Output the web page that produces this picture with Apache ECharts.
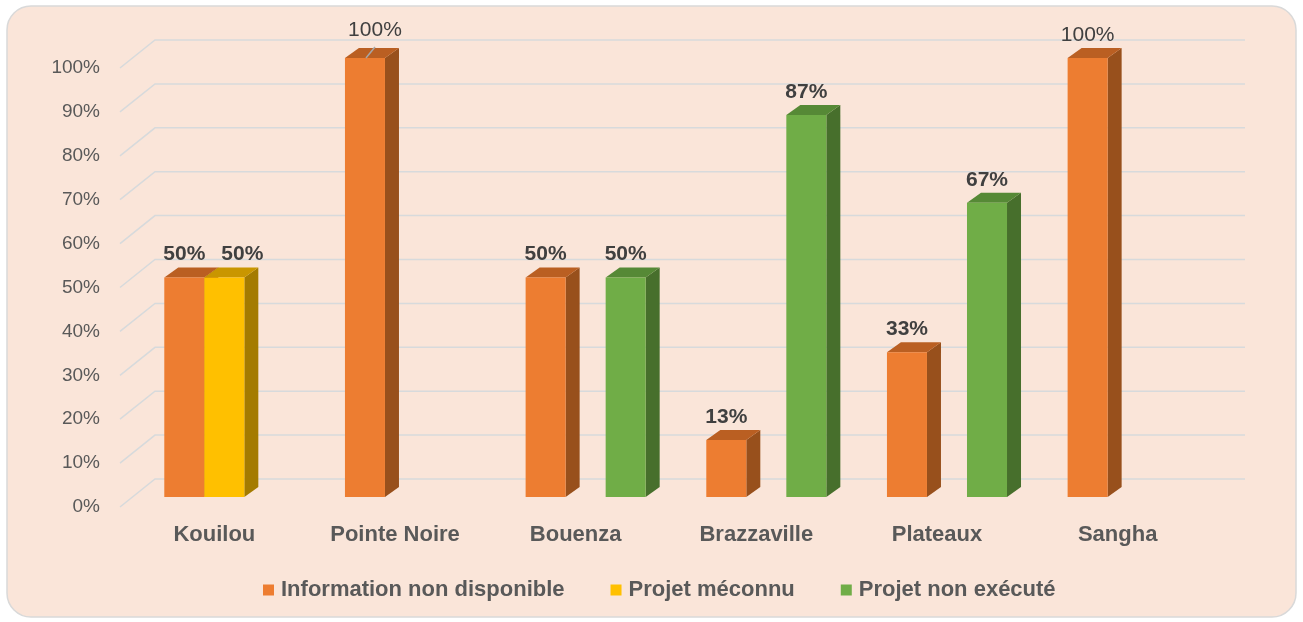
<!DOCTYPE html>
<html>
<head>
<meta charset="utf-8">
<script src="https://cdn.jsdelivr.net/npm/echarts@6/dist/echarts.min.js"></script>
<style>
  html, body { margin: 0; padding: 0; background: #ffffff; }
  #chart { width: 1303px; height: 622px; }
</style>
</head>
<body>
<div id="chart"></div>
<script>
// Départements and share of each status (%)
const categories = ['Kouilou', 'Pointe Noire', 'Bouenza', 'Brazzaville', 'Plateaux', 'Sangha'];
const seriesNames = ['Information non disponible', 'Projet méconnu', 'Projet non exécuté'];
const infoNonDisponible = [50, 100, 50, 13, 33, 100];
const projetMeconnu = [50, null, null, null, null, null];
const projetNonExecute = [null, null, 50, 87, 67, null];
const yTicks = [0, 10, 20, 30, 40, 50, 60, 70, 80, 90, 100];

const FONT = 'Liberation Sans';
const DEPTH_X = 14;   // 3D bar depth, horizontal
const DEPTH_Y = 10;   // 3D bar depth, vertical

const palette = [
  { front: '#ED7D31', top: '#BA5F22', side: '#98501C' },
  { front: '#FFC000', top: '#C99600', side: '#A47B00' },
  { front: '#70AD47', top: '#568936', side: '#476F2C' }
];

// small label shifts where labels would collide or need a leader line
const labelNudge = {
  '0:1': { dx: 18, dy: 0 },
  '1:0': { dx: 10, dy: -5, leader: true }
};

function toPoints(values) {
  return values.map((v, i) => (v == null ? null : [i, v])).filter(Boolean);
}

function barRenderer(slot) {
  return function (params, api) {
    const cat = api.value(0);
    const val = api.value(1);
    const base = api.coord([cat, 0]);
    const top = api.coord([cat, val]);
    const band = api.size([1, 0])[0];
    const w = band * 0.2215;
    const x0 = base[0] - band * 0.277 + slot * w;
    const x1 = x0 + w;
    const yb = base[1];
    const yt = top[1];
    const c = palette[slot];
    const nudge = labelNudge[cat + ':' + slot] || { dx: 0, dy: 0 };
    const lx = x0 + w / 2 + nudge.dx;
    const ly = yt - 23 + nudge.dy;
    const children = [
      { type: 'polygon', shape: { points: [[x1, yt], [x1 + DEPTH_X, yt - DEPTH_Y], [x1 + DEPTH_X, yb - DEPTH_Y], [x1, yb]] }, style: { fill: c.side } },
      { type: 'polygon', shape: { points: [[x0, yt], [x0 + DEPTH_X, yt - DEPTH_Y], [x1 + DEPTH_X, yt - DEPTH_Y], [x1, yt]] }, style: { fill: c.top } },
      { type: 'rect', shape: { x: x0, y: yt, width: w, height: yb - yt }, style: { fill: c.front } },
      {
        type: 'text',
        style: {
          text: val + '%', x: lx, y: ly, align: 'center', verticalAlign: 'middle',
          fontFamily: FONT, fontSize: 21, fontWeight: val === 100 ? 'normal' : 'bold',
          fill: '#404040'
        },
        z2: 10
      }
    ];
    if (nudge.leader) {
      children.push({
        type: 'line',
        shape: { x1: x0 + w / 2 + nudge.dx, y1: yt - 11, x2: x0 + w / 2 + 1, y2: yt },
        style: { stroke: '#A6A6A6', lineWidth: 1.5 }
      });
    }
    return { type: 'group', children: children };
  };
}

// side wall ticks and back wall gridlines
function wallRenderer(params, api) {
  const cs = params.coordSys;
  const y = api.coord([0, api.value(1)])[1];
  return {
    type: 'polyline',
    shape: { points: [[cs.x - 4, y], [cs.x + 31, y - 28], [cs.x + cs.width + 37, y - 28]] },
    style: { stroke: '#D7DADC', lineWidth: 1.5, fill: null }
  };
}

const chart = echarts.init(document.getElementById('chart'), null, { renderer: 'canvas' });

const barSeries = [infoNonDisponible, projetMeconnu, projetNonExecute].map((vals, slot) => ({
  name: seriesNames[slot],
  type: 'custom',
  coordinateSystem: 'cartesian2d',
  xAxisIndex: 0,
  yAxisIndex: 0,
  renderItem: barRenderer(slot),
  itemStyle: { color: palette[slot].front },
  encode: { x: 0, y: 1 },
  data: toPoints(vals),
  z: 5 + slot,
  silent: true
}));

chart.setOption({
  animation: false,
  backgroundColor: '#ffffff',
  graphic: [{
    type: 'rect',
    z: -10,
    shape: { x: 7, y: 6, width: 1289, height: 611, r: 24 },
    style: { fill: '#FAE5D9', stroke: '#D9D9D9', lineWidth: 1.5 }
  }],
  grid: [
    { left: 124, right: 95, top: 58, bottom: 125 },   // bar front faces
    { left: 124, right: 95, top: 68, bottom: 115 }    // front edge of the side wall
  ],
  xAxis: [{
    type: 'category',
    gridIndex: 0,
    data: categories,
    axisLine: { show: false },
    axisTick: { show: false },
    axisLabel: { color: '#595959', fontFamily: FONT, fontSize: 22, fontWeight: 'bold', margin: 27 }
  }, {
    type: 'category',
    gridIndex: 1,
    data: categories,
    show: false
  }],
  yAxis: [{
    type: 'value',
    gridIndex: 0,
    min: 0, max: 100, interval: 10,
    show: false
  }, {
    type: 'value',
    gridIndex: 1,
    min: 0, max: 100, interval: 10,
    splitLine: { show: false },
    axisLine: { show: false },
    axisTick: { show: false },
    axisLabel: { formatter: '{value}%', color: '#595959', fontFamily: FONT, fontSize: 19, margin: 24 }
  }],
  legend: {
    data: seriesNames,
    left: 258,
    top: 573,
    icon: 'rect',
    itemWidth: 11,
    itemHeight: 11,
    itemGap: 46,
    textStyle: { color: '#595959', fontFamily: FONT, fontSize: 22, fontWeight: 'bold', lineHeight: 24, padding: [0, 0, 0, 2] }
  },
  series: [{
    name: 'wall',
    type: 'custom',
    coordinateSystem: 'cartesian2d',
    xAxisIndex: 1,
    yAxisIndex: 1,
    renderItem: wallRenderer,
    encode: { x: 0, y: 1 },
    data: yTicks.map(v => [0, v]),
    z: 1,
    silent: true
  }].concat(barSeries)
});
</script>
</body>
</html>
